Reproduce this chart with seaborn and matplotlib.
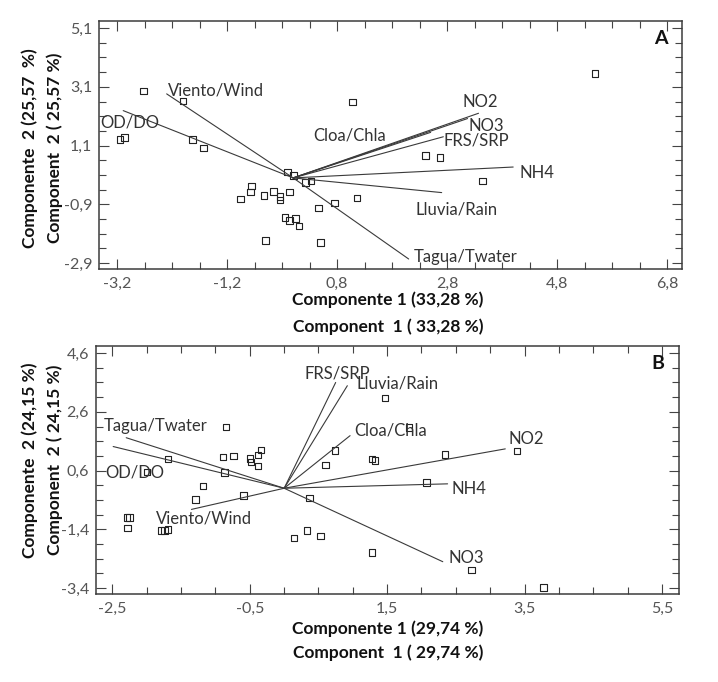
import numpy as np
import pandas as pd
import matplotlib
matplotlib.use("Agg")
import matplotlib.pyplot as plt
from matplotlib.ticker import FuncFormatter
import seaborn as sns

# ---- panel A data ----
a_x = [-2.72, -2.00, -3.15, -3.07, -1.83, -1.63, 1.08, -0.10, 0.01, 0.22, 0.32,
       -0.76, -0.78, -0.96, -0.53, -0.36, -0.24, -0.24, -0.07, -0.15, -0.07, 0.04,
       0.11, 0.46, 0.75, 1.16, -0.50, 0.50, 5.49, 2.41, 2.67, 3.44]
a_y = [2.95, 2.61, 1.31, 1.38, 1.31, 1.02, 2.58, 0.20, 0.09, -0.16, -0.11,
       -0.27, -0.48, -0.71, -0.60, -0.46, -0.64, -0.75, -0.48, -1.34, -1.45, -1.39,
       -1.63, -1.02, -0.85, -0.69, -2.13, -2.20, 3.56, 0.77, 0.70, -0.11]

a_vars = ["Viento/Wind", "OD/DO", "Tagua/Twater", "Lluvia/Rain", "NH4",
          "FRS/SRP", "NO3", "NO2", "Cloa/Chla"]
a_vec_x = [-2.30, -3.09, 2.10, 2.70, 4.00, 2.73, 3.17, 3.37, 2.50]
a_vec_y = [2.86, 2.29, -2.76, -0.50, 0.37, 1.40, 2.02, 2.20, 1.55]
a_lab_x = [-2.27, -3.51, 2.19, 2.22, 4.11, 2.73, 3.19, 3.07, 0.37]
a_lab_y = [2.99, 1.88, -2.68, -1.06, 0.16, 1.27, 1.77, 2.58, 1.43]

# ---- panel B data ----
b_x = [-0.85, -1.69, -2.00, -0.89, -0.74, -0.50, -0.48, -0.38, -0.34, -0.38,
       -0.87, -1.18, -1.29, -0.59, -2.29, -2.25, -2.28, -1.79, -1.74, -1.69,
       0.37, 0.14, 0.33, 0.53, 1.28, 0.74, 0.60, 1.28, 1.32, 1.47,
       1.82, 2.34, 3.39, 2.07, 2.73, 3.78]
b_y = [2.08, 0.99, 0.55, 1.07, 1.10, 1.02, 0.90, 1.13, 1.30, 0.75,
       0.53, 0.08, -0.38, -0.24, -0.99, -0.99, -1.36, -1.43, -1.43, -1.41,
       -0.33, -1.70, -1.43, -1.63, -2.19, 1.29, 0.79, 0.99, 0.94, 3.08,
       2.06, 1.15, 1.26, 0.20, -2.78, -3.38]

b_vars = ["Tagua/Twater", "OD/DO", "Viento/Wind", "FRS/SRP", "Lluvia/Rain",
          "Cloa/Chla", "NO2", "NH4", "NO3"]
b_vec_x = [-2.30, -2.49, -1.35, 0.75, 0.92, 0.96, 3.22, 2.38, 2.31]
b_vec_y = [1.72, 1.42, -0.72, 3.60, 3.49, 1.79, 1.34, 0.15, -2.50]
b_lab_x = [-2.63, -2.61, -1.86, 0.30, 1.05, 1.02, 3.26, 2.43, 2.39]
b_lab_y = [2.12, 0.53, -1.04, 3.90, 3.56, 1.96, 1.66, -0.02, -2.36]

sns.set_theme(style="white")
plt.rcParams["font.family"] = ["Lato", "DejaVu Sans"]

fig = plt.figure(figsize=(7.18, 6.82), dpi=100)
axA = fig.add_axes([0.1379, 0.6056, 0.812, 0.3636])
axB = fig.add_axes([0.1337, 0.1290, 0.812, 0.3636])


def comma(v, pos):
    return ("%.1f" % v).replace(".", ",")


def draw(ax, px, py, vars_, vx, vy, lx, ly, xlim, ylim, xmaj, ymaj, letter):
    for i in range(len(vars_)):
        ax.plot([0, vx[i]], [0, vy[i]], color="#3a3a3a", lw=0.8)
        ax.text(lx[i], ly[i], vars_[i], fontsize=12, color="#333333",
                ha="left", va="center")
    df = pd.DataFrame({"x": px, "y": py})
    sns.scatterplot(data=df, x="x", y="y", ax=ax, marker="s", s=22,
                    fc="none", ec="#222222", linewidth=0.8)
    ax.set_xticks(xmaj)
    ax.set_yticks(ymaj)
    # minor ticks every 0.5, aligned on the majors
    ax.set_xticks(np.arange(xmaj[0] - 1.0, xlim[1], 0.5), minor=True)
    ax.set_yticks(np.arange(ymaj[0] - 1.0, ylim[1], 0.5), minor=True)
    ax.set_xlim(*xlim)
    ax.set_ylim(*ylim)
    ax.xaxis.set_major_formatter(FuncFormatter(comma))
    ax.yaxis.set_major_formatter(FuncFormatter(comma))
    ax.tick_params(which="both", direction="in", top=True, right=True,
                   bottom=True, left=True, color="#444444", width=0.8)
    ax.tick_params(which="major", length=7, labelsize=11.5, labelcolor="#555555")
    ax.tick_params(which="minor", length=5)
    ax.tick_params(axis="x", which="major", pad=6)
    ax.tick_params(axis="y", which="major", pad=5)
    for s in ax.spines.values():
        s.set_color("#3c3c3c")
        s.set_linewidth(1.1)
    ax.set_xlabel("")
    ax.set_ylabel("")
    ax.text(0.975, 0.965, letter, transform=ax.transAxes, fontsize=14,
            fontweight="bold", ha="right", va="top", color="#111111")


draw(axA, a_x, a_y, a_vars, a_vec_x, a_vec_y, a_lab_x, a_lab_y,
     (-3.53, 7.07), (-3.10, 5.34),
     [-3.2, -1.2, 0.8, 2.8, 4.8, 6.8], [-2.9, -0.9, 1.1, 3.1, 5.1], "A")
draw(axB, b_x, b_y, b_vars, b_vec_x, b_vec_y, b_lab_x, b_lab_y,
     (-2.74, 5.75), (-3.60, 4.84),
     [-2.5, -0.5, 1.5, 3.5, 5.5], [-3.4, -1.4, 0.6, 2.6, 4.6], "B")

W, H = 718, 682
lab = dict(fontsize=12.5, fontweight="bold", color="#111111", ha="center", va="center")
fig.text(388 / W, 1 - 300 / H, "Componente 1 (33,28 %)", **lab)
fig.text(388 / W, 1 - 327 / H, "Component  1 ( 33,28 %)", **lab)
fig.text(30 / W, 1 - 148 / H, "Componente  2 (25,57  %)", rotation=90, **lab)
fig.text(55 / W, 1 - 148 / H, "Component  2 ( 25,57 %)", rotation=90, **lab)

fig.text(388 / W, 1 - 629 / H, "Componente 1 (29,74 %)", **lab)
fig.text(388 / W, 1 - 653 / H, "Component  1 ( 29,74 %)", **lab)
fig.text(30 / W, 1 - 460 / H, "Componente  2 (24,15 %)", rotation=90, **lab)
fig.text(55 / W, 1 - 460 / H, "Component  2 ( 24,15 %)", rotation=90, **lab)

fig.savefig("out.png", dpi=100)
